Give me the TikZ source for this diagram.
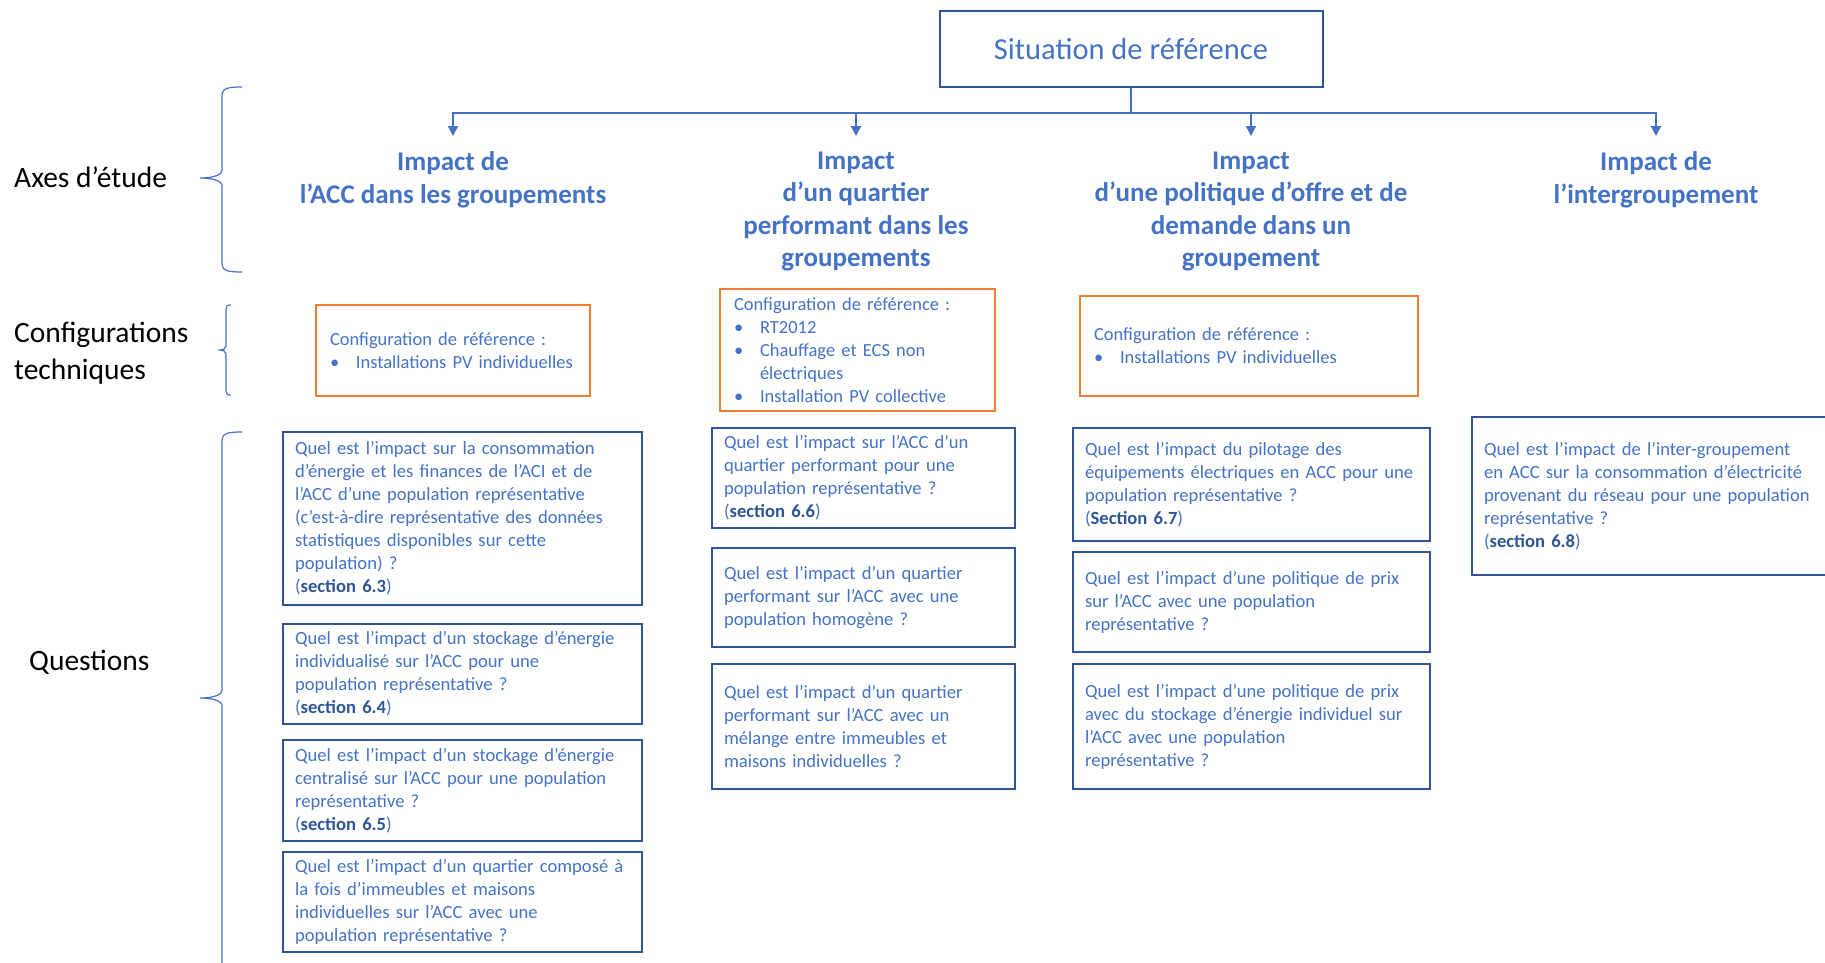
\documentclass[tikz,border=0pt]{standalone}
\usepackage{fontspec}
\setmainfont{Carlito}
\usetikzlibrary{arrows.meta}
\definecolor{accblue}{HTML}{4472C4}
\definecolor{navy}{HTML}{2F5597}
\definecolor{accorange}{HTML}{ED7D31}
\newcommand\sectlabel[1]{(\textbf{\color{navy}#1})}
\newcommand\cfgitem{\makebox[26pt][l]{\textbullet}}

\begin{document}
\begin{tikzpicture}[x=1pt, y=-1pt,
  titlebox/.style={draw=navy, line width=2pt, text=accblue, font=\fontsize{30.5}{36}\selectfont, minimum width=383pt, minimum height=76pt},
  axis/.style={text=accblue, font=\fontsize{27}{32.5}\selectfont\bfseries, align=center, anchor=north, inner ysep=15.5pt},
  rowlabel/.style={font=\fontsize{29.5}{37}\selectfont, align=left, inner sep=0pt},
  cfgbox/.style={draw=accorange, line width=2pt, text=accblue, font=\fontsize{18.5}{23}\selectfont, align=left, anchor=north west, inner xsep=14pt},
  qbox/.style={draw=navy, line width=2pt, text=accblue, font=\fontsize{18.6}{23}\selectfont, align=left, anchor=north west, inner xsep=12pt},
  link/.style={draw=accblue, line width=1.5pt, -{Triangle[width=10pt,length=10pt]}},
  brace/.style={draw=accblue, line width=1.2pt}]
  \useasboundingbox (0,0) rectangle (1825,962);

  \node[titlebox] (title) at (1131,48.7) {Situation de référence};

  \node[axis] (ax1) at (453,136) {Impact de\\l’ACC dans les groupements};
  \node[axis] (ax2) at (856,136) {Impact\\d’un quartier\\performant dans les\\groupements};
  \node[axis] (ax3) at (1251,136) {Impact\\d’une politique d’offre et de\\demande dans un\\groupement};
  \node[axis] (ax4) at (1656,136) {Impact de\\l’intergroupement};

  \draw[link] (title.south) -- ++(0,25.3) -| (ax1.north);
  \draw[link] (title.south) -- ++(0,25.3) -| (ax2.north);
  \draw[link] (title.south) -- ++(0,25.3) -| (ax3.north);
  \draw[link] (title.south) -- ++(0,25.3) -| (ax4.north);

  \node[rowlabel, anchor=base west] (axes) at (14,187) {Axes d’étude};
  \node[rowlabel, anchor=north west] (configs) at (14,321.5) {Configurations\\techniques};
  \node[rowlabel, anchor=base west] (questions) at (29,670.5) {Questions};

  \draw[brace] (242,87) .. controls (228,87) and (222,88) .. (222,96) -- (222,170)
    .. controls (222,176) and (210,178) .. (200,178) .. controls (210,178) and (222,180) .. (222,186)
    -- (222,263) .. controls (222,271) and (228,272) .. (242,272);
  \draw[brace] (231,305) .. controls (227,305) and (226,306) .. (226,309) -- (226,346)
    .. controls (226,349) and (223,350) .. (220,350) .. controls (223,350) and (226,351) .. (226,354)
    -- (226,391) .. controls (226,394) and (227,395) .. (231,395);
  \draw[brace] (242,432) .. controls (228,432) and (222,433) .. (222,441) -- (222,690)
    .. controls (222,696) and (210,698) .. (200,698) .. controls (210,698) and (222,700) .. (222,706)
    -- (222,964);

  \node[cfgbox, minimum width=274pt, minimum height=91pt, text width=246pt] (cfg1) at (315,304)
    {Configuration de référence~:\\\cfgitem Installations PV individuelles};
  \node[cfgbox, minimum width=275pt, minimum height=122pt, text width=247pt] (cfg2) at (719,288)
    {Configuration de référence~:\\\cfgitem RT2012\\\cfgitem Chauffage et ECS non\\\hspace*{26pt}électriques\\\cfgitem Installation PV collective};
  \node[cfgbox, minimum width=338pt, minimum height=100pt, text width=310pt] (cfg3) at (1079,295)
    {Configuration de référence~:\\\cfgitem Installations PV individuelles};

  \node[qbox, minimum width=359pt, minimum height=173pt, text width=335pt] (q1) at (282,431)
    {Quel est l’impact sur la consommation\\d’énergie et les finances de l’ACI et de\\l’ACC d’une population représentative\\(c’est-à-dire représentative des données\\statistiques disponibles sur cette\\population) ?\\\sectlabel{section 6.3}};
  \node[qbox, minimum width=359pt, minimum height=100pt, text width=335pt] (q2) at (282,623)
    {Quel est l’impact d’un stockage d’énergie\\individualisé sur l’ACC pour une\\population représentative ?\\\sectlabel{section 6.4}};
  \node[qbox, minimum width=359pt, minimum height=101pt, text width=335pt] (q3) at (282,739)
    {Quel est l’impact d’un stockage d’énergie\\centralisé sur l’ACC pour une population\\représentative ?\\\sectlabel{section 6.5}};
  \node[qbox, minimum width=359pt, minimum height=100pt, text width=335pt] (q4) at (282,851)
    {Quel est l’impact d’un quartier composé à\\la fois d’immeubles et maisons\\individuelles sur l’ACC avec une\\population représentative ?};

  \node[qbox, minimum width=303pt, minimum height=100pt, text width=279pt] (q5) at (711,427)
    {Quel est l’impact sur l’ACC d’un\\quartier performant pour une\\population représentative ?\\\sectlabel{section 6.6}};
  \node[qbox, minimum width=303pt, minimum height=99pt, text width=279pt] (q6) at (711,547)
    {Quel est l’impact d’un quartier\\performant sur l’ACC avec une\\population homogène ?};
  \node[qbox, minimum width=303pt, minimum height=125pt, text width=279pt] (q7) at (711,663)
    {Quel est l’impact d’un quartier\\performant sur l’ACC avec un\\mélange entre immeubles et\\maisons individuelles ?};

  \node[qbox, minimum width=357pt, minimum height=113pt, text width=333pt] (q8) at (1072,427)
    {Quel est l’impact du pilotage des\\équipements électriques en ACC pour une\\population représentative ?\\\sectlabel{Section 6.7}};
  \node[qbox, minimum width=357pt, minimum height=100pt, text width=333pt] (q9) at (1072,551)
    {Quel est l’impact d’une politique de prix\\sur l’ACC avec une population\\représentative ?};
  \node[qbox, minimum width=357pt, minimum height=125pt, text width=333pt] (q10) at (1072,663)
    {Quel est l’impact d’une politique de prix\\avec du stockage d’énergie individuel sur\\l’ACC avec une population\\représentative ?};

  \node[qbox, minimum width=362pt, minimum height=158pt, text width=338pt] (q11) at (1471,416)
    {Quel est l’impact de l’inter-groupement\\en ACC sur la consommation d’électricité\\provenant du réseau pour une population\\représentative ?\\\sectlabel{section 6.8}};
\end{tikzpicture}
\end{document}
